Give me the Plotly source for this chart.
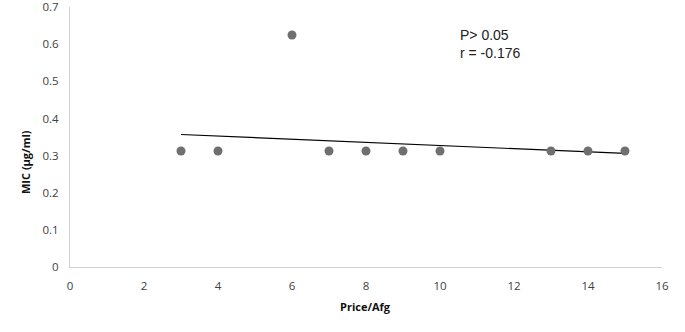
import plotly.graph_objects as go

price = [3, 4, 6, 7, 8, 9, 10, 13, 14, 15]
mic = [0.3125, 0.3125, 0.625, 0.3125, 0.3125, 0.3125, 0.3125, 0.3125, 0.3125, 0.3125]
trend_x = [3, 15]
trend_y = [0.357, 0.306]
x_ticks = [0, 2, 4, 6, 8, 10, 12, 14, 16]
y_ticks = [0, 0.1, 0.2, 0.3, 0.4, 0.5, 0.6, 0.7]
y_labels = ["0", "0.1", "0.2", "0.3", "0.4", "0.5", "0.6", "0.7"]

fig = go.Figure()
fig.add_trace(go.Scatter(x=trend_x, y=trend_y, mode="lines",
                         line=dict(color="#000000", width=1.2), showlegend=False))
fig.add_trace(go.Scatter(x=price, y=mic, mode="markers",
                         marker=dict(color="#6f6f6f", size=9), showlegend=False))

fig.add_annotation(x=10.5, y=0.549, xref="x", yref="y", xanchor="left", yanchor="bottom",
                   text="P> 0.05<br>r = -0.176", showarrow=False, align="left",
                   font=dict(family="Liberation Sans, Arial", size=14, color="#222222"))

title_font = dict(family="Open Sans, Liberation Sans", size=11, color="#111111")
fig.add_annotation(x=25, y=162, xref="paper", yref="paper", text="<b>MIC (μg/ml)</b>",
                   textangle=-90, showarrow=False, font=title_font,
                   xanchor="center", yanchor="middle")
fig.add_annotation(x=365, y=306, xref="paper", yref="paper", text="<b>Price/Afg</b>",
                   showarrow=False, font=title_font, xanchor="center", yanchor="middle")

# convert pixel positions of the titles to paper coords
L, R, T, B, W, H = 70, 23, 7, 65, 685, 332
pw, ph = W - L - R, H - T - B
for ann in fig.layout.annotations[1:]:
    ann.x = (ann.x - L) / pw
    ann.y = (H - B - ann.y) / ph

axis_font = dict(family="Open Sans, Liberation Sans", size=11.5, color="#404040")
fig.update_layout(
    width=W, height=H,
    margin=dict(l=L, r=R, t=T, b=B),
    paper_bgcolor="white", plot_bgcolor="white",
    xaxis=dict(range=[0, 16.001], tickvals=x_ticks, showgrid=False, zeroline=False,
               showline=True, linecolor="#d0d0d0", linewidth=1, ticks="",
               tickfont=axis_font, automargin=False, ticklabeloverflow="allow",
               ticklabelstandoff=8),
    yaxis=dict(range=[0, 0.7005], tickvals=y_ticks, ticktext=y_labels,
               showgrid=False, zeroline=False,
               showline=True, linecolor="#d0d0d0", linewidth=1, ticks="",
               tickfont=axis_font, ticklabelstandoff=8, automargin=False,
               ticklabeloverflow="allow"),
)
fig.write_html("out.html", config={"displayModeBar": False},
               post_script="document.body.style.margin='0px';")
